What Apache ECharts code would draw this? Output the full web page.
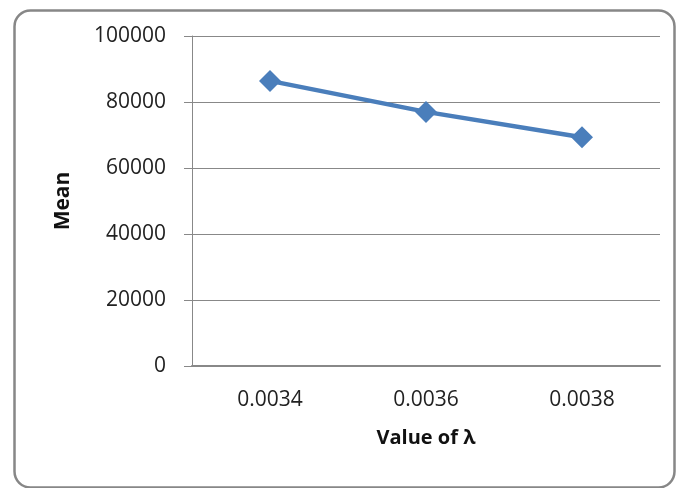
<!DOCTYPE html>
<html><head><meta charset="utf-8">
<script src="https://cdn.jsdelivr.net/npm/echarts@6/dist/echarts.min.js"></script>
<style>html,body{margin:0;padding:0;background:#fff}#c{width:680px;height:488px}</style>
</head><body><div id="c"></div>
<script>
const categories = ['0.0034', '0.0036', '0.0038'];
const meanValues = [86400, 77000, 69300];
const yTicks = [0, 20000, 40000, 60000, 80000, 100000];

const chart = echarts.init(document.getElementById('c'));
const font = '"Open Sans", sans-serif';
chart.setOption({
  animation: false,
  graphic: [{
    type: 'rect', left: 12, top: 8,
    shape: { width: 660, height: 477, r: 16 },
    style: { fill: 'none', stroke: '#878787', lineWidth: 2.5 }
  }],
  grid: { left: 192, right: 20, top: 36, bottom: 122 },
  xAxis: {
    type: 'category', data: categories,
    name: 'Value of λ', nameLocation: 'middle', nameGap: 62,
    nameTextStyle: { fontFamily: font, fontSize: 20, fontWeight: 'bold', color: '#111' },
    axisLine: { lineStyle: { color: '#888', width: 2 } },
    axisTick: { show: false },
    axisLabel: { fontFamily: font, fontSize: 21, color: '#222', margin: 24 }
  },
  yAxis: {
    type: 'value', min: yTicks[0], max: yTicks[yTicks.length - 1], interval: 20000,
    name: 'Mean', nameLocation: 'middle', nameGap: 118, nameRotate: 90,
    nameTextStyle: { fontFamily: font, fontSize: 21, fontWeight: 'bold', color: '#111' },
    axisLine: { show: true, lineStyle: { color: '#888', width: 1 } },
    axisTick: { show: true, inside: false, length: 8, lineStyle: { color: '#888' } },
    axisLabel: { fontFamily: font, fontSize: 21, color: '#222', margin: 26, formatter: v => String(v) },
    splitLine: { lineStyle: { color: '#888', width: 1 } }
  },
  series: [{
    type: 'line', data: meanValues,
    symbol: 'diamond', symbolSize: 22,
    lineStyle: { color: '#4a7ebb', width: 4.5 },
    itemStyle: { color: '#4a7ebb' }
  }]
});
</script></body></html>
